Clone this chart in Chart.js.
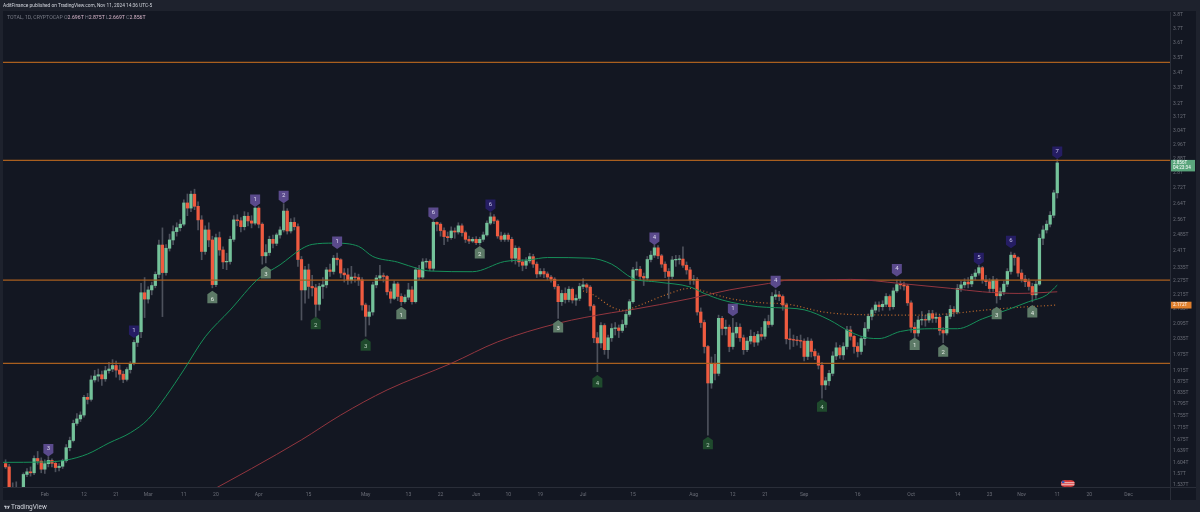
<!DOCTYPE html>
<html>
<head>
<meta charset="utf-8">
<title>TOTAL, 1D, CRYPTOCAP</title>
<script src="https://cdn.jsdelivr.net/npm/chart.js@4.4.1/dist/chart.umd.min.js"></script>
<style>
  html, body { margin: 0; padding: 0; background: #1e222d; }
  #wrap { position: relative; width: 1200px; height: 512px; overflow: hidden; }
  #panel { position: absolute; left: 3px; top: 11px; width: 1193px; height: 489px; background: #131722; }
  #myChart { position: absolute; left: 0; top: 0; }
  .t { position: absolute; white-space: nowrap; line-height: 1; font-family: Roboto, "Liberation Sans", sans-serif; }
  #pub { left: 3px; top: 3.5px; font-size: 4.8px; color: #d1d4dc; }
  #legend { left: 7px; top: 14.5px; font-size: 5.2px; color: #787b86; }
  #legend b { font-weight: normal; color: #d9b8cc; }
  #brand { left: 4px; top: 504px; font-size: 6.5px; color: #d1d4dc; }
</style>
</head>
<body>
<div id="wrap">
  <div id="panel"></div>
  <canvas id="myChart" width="1200" height="512"></canvas>
  <div class="t" id="pub">AditFinance published on TradingView.com, Nov 11, 2024 14:36 UTC-5</div>
  <div class="t" id="legend">TOTAL, 1D, CRYPTOCAP O<b>2.696T</b> H<b>2.875T</b> L<b>2.669T</b> C<b>2.856T</b></div>
  <div class="t" id="brand"><svg width="6" height="4.5" viewBox="0 0 36 28" style="vertical-align:-0.5px;margin-right:1px"><path d="M14 24H7V11H0V4h14v20zM28 24h-8l7.5-20h8L28 24z" fill="#d1d4dc"/><circle cx="19" cy="8" r="4" fill="#d1d4dc"/></svg>TradingView</div>
</div>
<script>
// TOTAL crypto market cap, daily candles from Jan 21 to Nov 11 2024
// day numbers count from Feb 1 (= 0)

const ctx = document.querySelector("#myChart");

const firstDay = -11;
const firstOpen = 1.600;

const closes = [
  1.590, 1.515, 1.525, 1.522, 1.520, 1.567, 1.575, 1.572, 1.616, 1.608,
  1.583, 1.600, 1.610, 1.601, 1.588, 1.592, 1.609, 1.650, 1.673, 1.729,
  1.744, 1.757, 1.818, 1.811, 1.880, 1.894, 1.899, 1.884, 1.914, 1.920,
  1.933, 1.916, 1.901, 1.882, 1.918, 1.941, 2.021, 2.063, 2.224, 2.197,
  2.236, 2.255, 2.304, 2.438, 2.312, 2.423, 2.462, 2.502, 2.521, 2.538,
  2.644, 2.618, 2.689, 2.627, 2.559, 2.408, 2.510, 2.462, 2.259, 2.473,
  2.415, 2.360, 2.362, 2.465, 2.559, 2.555, 2.526, 2.577, 2.554, 2.543,
  2.618, 2.538, 2.388, 2.403, 2.465, 2.446, 2.486, 2.510, 2.603, 2.505,
  2.547, 2.526, 2.371, 2.236, 2.324, 2.251, 2.245, 2.175, 2.251, 2.258,
  2.324, 2.317, 2.377, 2.370, 2.310, 2.302, 2.279, 2.292, 2.290, 2.280,
  2.172, 2.125, 2.143, 2.258, 2.288, 2.298, 2.295, 2.228, 2.200, 2.262,
  2.208, 2.186, 2.205, 2.236, 2.186, 2.324, 2.292, 2.360, 2.363, 2.331,
  2.547, 2.538, 2.507, 2.478, 2.473, 2.505, 2.500, 2.530, 2.497, 2.465,
  2.457, 2.465, 2.449, 2.465, 2.486, 2.543, 2.574, 2.554, 2.481, 2.465,
  2.485, 2.465, 2.377, 2.423, 2.360, 2.345, 2.365, 2.384, 2.350, 2.306,
  2.317, 2.306, 2.292, 2.283, 2.251, 2.186, 2.221, 2.195, 2.239, 2.193,
  2.200, 2.251, 2.258, 2.248, 2.168, 2.039, 2.019, 2.088, 1.993, 2.039,
  2.076, 2.078, 2.068, 2.092, 2.133, 2.186, 2.324, 2.327, 2.295, 2.288,
  2.371, 2.391, 2.425, 2.388, 2.350, 2.317, 2.295, 2.369, 2.371, 2.373,
  2.345, 2.324, 2.279, 2.282, 2.143, 2.100, 2.005, 1.869, 1.941, 1.904,
  2.117, 2.076, 2.081, 2.005, 2.058, 2.081, 2.039, 1.993, 2.026, 2.045,
  2.022, 2.052, 2.045, 2.104, 2.092, 2.208, 2.215, 2.208, 2.172, 2.035,
  2.032, 2.030, 2.028, 2.026, 1.967, 2.026, 1.986, 1.969, 1.934, 1.862,
  1.877, 1.904, 1.969, 2.000, 1.973, 2.005, 2.070, 2.045, 2.005, 1.986,
  2.036, 2.076, 2.125, 2.151, 2.172, 2.165, 2.175, 2.208, 2.165, 2.232,
  2.259, 2.258, 2.253, 2.181, 2.081, 2.058, 2.110, 2.112, 2.110, 2.136,
  2.117, 2.121, 2.068, 2.058, 2.125, 2.154, 2.143, 2.243, 2.258, 2.270,
  2.262, 2.295, 2.310, 2.334, 2.279, 2.272, 2.242, 2.279, 2.211, 2.228,
  2.261, 2.317, 2.391, 2.380, 2.310, 2.283, 2.272, 2.251, 2.215, 2.261,
  2.470, 2.510, 2.538, 2.582, 2.696, 2.856,
];

const highs = [
  1.612, 1.598, 1.542, 1.545, 1.528, 1.572, 1.585, 1.590, 1.624, 1.638,
  1.618, 1.612, 1.622, 1.615, 1.608, 1.600, 1.614, 1.660, 1.684, 1.740,
  1.762, 1.768, 1.825, 1.832, 1.895, 1.915, 1.920, 1.912, 1.930, 1.945,
  1.955, 1.950, 1.935, 1.912, 1.925, 1.948, 2.030, 2.080, 2.265, 2.290,
  2.250, 2.270, 2.315, 2.462, 2.520, 2.440, 2.490, 2.530, 2.545, 2.560,
  2.660, 2.690, 2.705, 2.715, 2.650, 2.580, 2.530, 2.545, 2.480, 2.490,
  2.500, 2.430, 2.400, 2.480, 2.580, 2.585, 2.570, 2.600, 2.595, 2.580,
  2.622, 2.625, 2.545, 2.440, 2.480, 2.485, 2.495, 2.525, 2.640, 2.615,
  2.565, 2.570, 2.540, 2.385, 2.340, 2.350, 2.300, 2.260, 2.265, 2.290,
  2.335, 2.350, 2.390, 2.400, 2.375, 2.330, 2.330, 2.340, 2.310, 2.305,
  2.290, 2.180, 2.170, 2.270, 2.300, 2.345, 2.310, 2.300, 2.240, 2.275,
  2.270, 2.220, 2.215, 2.265, 2.250, 2.335, 2.345, 2.375, 2.375, 2.370,
  2.555, 2.550, 2.545, 2.520, 2.500, 2.525, 2.520, 2.545, 2.540, 2.505,
  2.480, 2.475, 2.478, 2.475, 2.500, 2.555, 2.595, 2.585, 2.560, 2.500,
  2.495, 2.495, 2.475, 2.435, 2.430, 2.370, 2.380, 2.400, 2.395, 2.360,
  2.330, 2.330, 2.315, 2.300, 2.290, 2.260, 2.235, 2.245, 2.250, 2.245,
  2.215, 2.265, 2.285, 2.265, 2.255, 2.175, 2.060, 2.100, 2.095, 2.050,
  2.095, 2.100, 2.090, 2.110, 2.145, 2.195, 2.335, 2.360, 2.340, 2.310,
  2.385, 2.410, 2.440, 2.435, 2.395, 2.360, 2.330, 2.385, 2.390, 2.390,
  2.430, 2.360, 2.335, 2.300, 2.290, 2.160, 2.110, 2.010, 1.965, 1.975,
  2.130, 2.125, 2.110, 2.090, 2.117, 2.100, 2.095, 2.050, 2.040, 2.070,
  2.060, 2.065, 2.080, 2.115, 2.130, 2.225, 2.236, 2.230, 2.215, 2.180,
  2.075, 2.050, 2.045, 2.050, 2.035, 2.040, 2.035, 1.995, 1.980, 1.945,
  1.890, 1.915, 1.985, 2.020, 2.010, 2.020, 2.085, 2.085, 2.050, 2.020,
  2.045, 2.100, 2.135, 2.160, 2.185, 2.185, 2.190, 2.220, 2.215, 2.245,
  2.279, 2.275, 2.270, 2.260, 2.190, 2.100, 2.125, 2.145, 2.130, 2.150,
  2.150, 2.140, 2.130, 2.080, 2.135, 2.170, 2.165, 2.260, 2.275, 2.285,
  2.290, 2.305, 2.325, 2.345, 2.340, 2.300, 2.285, 2.295, 2.285, 2.245,
  2.275, 2.330, 2.405, 2.400, 2.385, 2.325, 2.300, 2.285, 2.265, 2.275,
  2.490, 2.530, 2.555, 2.600, 2.710, 2.875,
];

const lows = [
  1.585, 1.505, 1.470, 1.505, 1.500, 1.512, 1.560, 1.562, 1.566, 1.598,
  1.572, 1.570, 1.590, 1.590, 1.575, 1.578, 1.585, 1.604, 1.640, 1.668,
  1.722, 1.735, 1.750, 1.795, 1.805, 1.872, 1.875, 1.860, 1.875, 1.905,
  1.910, 1.890, 1.880, 1.870, 1.876, 1.905, 1.935, 2.005, 2.040, 2.120,
  2.180, 2.215, 2.245, 2.290, 2.124, 2.300, 2.410, 2.440, 2.480, 2.505,
  2.530, 2.580, 2.600, 2.610, 2.510, 2.370, 2.395, 2.430, 2.245, 2.250,
  2.390, 2.330, 2.325, 2.350, 2.455, 2.530, 2.500, 2.510, 2.530, 2.520,
  2.535, 2.520, 2.350, 2.355, 2.390, 2.425, 2.435, 2.470, 2.500, 2.490,
  2.495, 2.510, 2.340, 2.110, 2.180, 2.200, 2.210, 2.124, 2.150, 2.200,
  2.245, 2.295, 2.305, 2.345, 2.290, 2.270, 2.260, 2.265, 2.270, 2.255,
  2.150, 2.045, 2.090, 2.130, 2.245, 2.280, 2.270, 2.215, 2.180, 2.195,
  2.190, 2.170, 2.180, 2.195, 2.175, 2.180, 2.280, 2.285, 2.335, 2.320,
  2.320, 2.505, 2.480, 2.440, 2.455, 2.465, 2.470, 2.490, 2.480, 2.450,
  2.445, 2.450, 2.440, 2.438, 2.455, 2.480, 2.535, 2.540, 2.470, 2.455,
  2.455, 2.455, 2.360, 2.350, 2.340, 2.320, 2.330, 2.355, 2.335, 2.290,
  2.295, 2.290, 2.280, 2.270, 2.240, 2.117, 2.170, 2.180, 2.185, 2.180,
  2.170, 2.190, 2.240, 2.230, 2.150, 2.020, 1.910, 2.000, 1.975, 1.960,
  2.025, 2.050, 2.040, 2.060, 2.080, 2.125, 2.180, 2.300, 2.280, 2.255,
  2.280, 2.360, 2.380, 2.375, 2.335, 2.290, 2.200, 2.285, 2.340, 2.350,
  2.335, 2.305, 2.260, 2.260, 2.130, 2.080, 1.980, 1.690, 1.850, 1.880,
  1.895, 2.050, 2.050, 1.985, 1.995, 2.040, 2.025, 1.975, 1.985, 2.015,
  2.005, 2.010, 2.030, 2.035, 2.080, 2.085, 2.195, 2.190, 2.150, 2.015,
  1.995, 2.005, 2.010, 2.000, 1.950, 1.955, 1.965, 1.955, 1.920, 1.815,
  1.845, 1.860, 1.895, 1.955, 1.960, 1.955, 1.995, 2.030, 1.980, 1.965,
  1.975, 2.010, 2.065, 2.110, 2.140, 2.145, 2.150, 2.165, 2.150, 2.155,
  2.225, 2.240, 2.235, 2.170, 2.060, 2.040, 2.045, 2.090, 2.085, 2.100,
  2.100, 2.100, 2.050, 2.020, 2.050, 2.115, 2.125, 2.135, 2.230, 2.245,
  2.245, 2.250, 2.280, 2.300, 2.265, 2.255, 2.225, 2.230, 2.180, 2.195,
  2.215, 2.250, 2.305, 2.345, 2.295, 2.270, 2.250, 2.235, 2.185, 2.200,
  2.255, 2.440, 2.495, 2.525, 2.570, 2.669,
];

// crypto daily candles open at the previous close
const opens = [firstOpen].concat(closes.slice(0, -1));

// moving averages
const maFastDays = [-12, 0, 6, 12, 18, 24, 29, 34, 39, 45, 52, 60, 66, 72, 75, 81, 88, 92, 99, 105, 108, 120, 129, 136, 141, 153, 159, 165, 172, 181, 185, 190, 200, 205, 213, 220, 226, 231, 234, 240, 249, 256, 263, 270, 276, 281, 284];
const maFastVals = [1.604, 1.605, 1.611, 1.630, 1.665, 1.698, 1.743, 1.822, 1.917, 2.043, 2.151, 2.286, 2.347, 2.420, 2.441, 2.447, 2.432, 2.385, 2.359, 2.328, 2.319, 2.316, 2.362, 2.370, 2.380, 2.377, 2.350, 2.286, 2.270, 2.249, 2.221, 2.193, 2.165, 2.161, 2.152, 2.111, 2.062, 2.038, 2.036, 2.064, 2.075, 2.075, 2.115, 2.152, 2.186, 2.214, 2.257];
const maSlowDays = [46, 58, 72, 83, 96, 114, 127, 144, 159, 164, 181, 192, 203, 209, 218, 226, 240, 254, 263, 273, 284];
const maSlowVals = [1.515, 1.585, 1.675, 1.757, 1.844, 1.941, 2.023, 2.097, 2.140, 2.151, 2.199, 2.236, 2.264, 2.279, 2.279, 2.282, 2.264, 2.243, 2.228, 2.221, 2.228];
const dotDays = [151, 154, 159, 162, 168, 174, 181, 187, 192, 200, 209, 218, 226, 245, 254, 263, 273, 284];
const dotVals = [2.232, 2.214, 2.164, 2.150, 2.178, 2.214, 2.243, 2.221, 2.200, 2.183, 2.174, 2.144, 2.133, 2.130, 2.136, 2.150, 2.162, 2.172];

// horizontal levels
const levels = [3.467, 2.870, 2.279, 1.941];

// swing labels
const topDays = [1, 25, 59, 67, 82, 109, 125, 171, 193, 205, 239, 262, 271, 284];
const topVals = [1.622, 2.038, 2.623, 2.642, 2.420, 2.559, 2.598, 2.438, 2.125, 2.243, 2.295, 2.345, 2.423, 2.878];
const topText = ["3", "1", "1", "2", "1", "6", "6", "4", "1", "4", "4", "5", "6", "7"];
const botDays = [47, 62, 76, 90, 100, 122, 144, 155, 186, 218, 244, 252, 267, 277];
const botVals = [2.233, 2.342, 2.123, 2.037, 2.165, 2.433, 2.110, 1.898, 1.685, 1.811, 2.040, 2.014, 2.165, 2.172];
const botText = ["6", "3", "2", "3", "1", "2", "3", "4", "2", "4", "1", "2", "3", "4"];

// axis ticks
const yTicks = [3.8, 3.7, 3.6, 3.5, 3.4, 3.3, 3.2, 3.12, 3.04, 2.96, 2.88, 2.8, 2.72, 2.64, 2.56, 2.485, 2.41, 2.335, 2.275, 2.215, 2.155, 2.095, 2.035, 1.975, 1.915, 1.875, 1.835, 1.795, 1.755, 1.715, 1.675, 1.639, 1.604, 1.57, 1.537];
const xTickDays = [0, 11, 20, 29, 39, 48, 60, 74, 90, 102, 111, 121, 130, 139, 151, 165, 182, 193, 202, 213, 228, 243, 256, 265, 274, 284, 293, 304];
const xTickText = ["Feb", "12", "21", "Mar", "11", "20", "Apr", "15", "May", "13", "22", "Jun", "10", "19", "Jul", "15", "Aug", "12", "21", "Sep", "16", "Oct", "14", "23", "Nov", "11", "20", "Dec"];

// styles
const upColor = "#74c29a";
const downColor = "#ef5b40";
const wickColor = "#4d515c";
const topTone = ["l", "d", "l", "l", "l", "l", "d", "l", "l", "l", "l", "d", "d", "d"];
const botTone = ["l", "l", "d", "d", "l", "l", "l", "d", "d", "d", "l", "l", "l", "l"];
const topFill = { l: ["#5a4a8c", "#dcd8f0"], d: ["#251d63", "#cac6ee"] };
const botFill = { l: ["#5d7a67", "#e2ebe4"], d: ["#1f4a2d", "#b8d0be"] };

const xMin = -11.725, xMax = 315.62;
const yMin = 1.5296, yMax = 3.8198;

const days = closes.map((c, i) => firstDay + i);

const wicks = {
  type: "bar",
  data: days.map((d, i) => ({ x: d, y: [lows[i], highs[i]] })),
  backgroundColor: wickColor,
  barThickness: 1,
  grouped: false,
  order: 6,
};

const bodies = {
  type: "bar",
  data: days.map((d, i) => ({ x: d, y: [opens[i], closes[i]] })),
  backgroundColor: closes.map((c, i) => (c >= opens[i] ? upColor : downColor)),
  barThickness: 2.6,
  minBarLength: 0.6,
  grouped: false,
  order: 5,
};

const levelSets = levels.map((v) => ({
  type: "line",
  data: [{ x: xMin, y: v }, { x: xMax, y: v }],
  borderColor: "#a95f1f",
  borderWidth: 1.3,
  pointRadius: 0,
  order: 4,
}));

const slowLine = {
  type: "line",
  data: maSlowDays.map((d, i) => ({ x: d, y: maSlowVals[i] })),
  borderColor: "#93363f",
  borderWidth: 1,
  pointRadius: 0,
  cubicInterpolationMode: "monotone",
  order: 3,
};

const dotLine = {
  type: "line",
  data: dotDays.map((d, i) => ({ x: d, y: dotVals[i] })),
  borderColor: "#c46d2c",
  borderWidth: 1.2,
  borderDash: [1, 2.4],
  pointRadius: 0,
  cubicInterpolationMode: "monotone",
  order: 2,
};

const fastLine = {
  type: "line",
  data: maFastDays.map((d, i) => ({ x: d, y: maFastVals[i] })),
  borderColor: "#17905a",
  borderWidth: 1,
  pointRadius: 0,
  cubicInterpolationMode: "monotone",
  order: 1,
};

function drawTag(c, x, tip, down, fill, ink, text) {
  const w = 10, h = 9, p = 3.5;
  const top = down ? tip - p - h : tip + p;
  c.beginPath();
  if (down) {
    c.moveTo(x - w / 2, top);
    c.lineTo(x + w / 2, top);
    c.lineTo(x + w / 2, top + h);
    c.lineTo(x, tip);
    c.lineTo(x - w / 2, top + h);
  } else {
    c.moveTo(x, tip);
    c.lineTo(x + w / 2, top);
    c.lineTo(x + w / 2, top + h);
    c.lineTo(x - w / 2, top + h);
    c.lineTo(x - w / 2, top);
  }
  c.closePath();
  c.fillStyle = fill;
  c.fill();
  c.fillStyle = ink;
  c.font = "6px Roboto, sans-serif";
  c.textAlign = "center";
  c.textBaseline = "middle";
  c.fillText(text, x, top + h / 2 + 0.4);
}

const overlay = {
  id: "overlay",
  afterDatasetsDraw(chart) {
    const c = chart.ctx, xs = chart.scales.x, ys = chart.scales.y;
    c.save();
    topDays.forEach((d, i) => {
      const f = topFill[topTone[i]];
      drawTag(c, xs.getPixelForValue(d), ys.getPixelForValue(topVals[i]), true, f[0], f[1], topText[i]);
    });
    botDays.forEach((d, i) => {
      const f = botFill[botTone[i]];
      drawTag(c, xs.getPixelForValue(d), ys.getPixelForValue(botVals[i]), false, f[0], f[1], botText[i]);
    });
    // economic event badge
    const ex = xs.getPixelForValue(285), ey = chart.chartArea.bottom - 6.8;
    c.fillStyle = "#d93b3b";
    c.beginPath();
    c.arc(ex + 3.3, ey + 3.3, 3.3, 0, Math.PI * 2);
    c.arc(ex + 10.5, ey + 3.3, 3.3, 0, Math.PI * 2);
    c.fill();
    c.fillRect(ex + 3.3, ey, 7.2, 6.6);
    c.fillStyle = "#f2f2f2";
    c.fillRect(ex + 0.6, ey + 2.2, 13, 0.8);
    c.fillRect(ex + 0.6, ey + 4.2, 13, 0.8);
    c.fillStyle = "#3b5bb5";
    c.fillRect(ex + 1, ey + 0.7, 2.6, 2.2);
    c.restore();
  },
  afterDraw(chart) {
    const c = chart.ctx, ys = chart.scales.y, a = chart.chartArea;
    c.save();
    c.strokeStyle = "#2a2e39";
    c.lineWidth = 1;
    c.beginPath();
    c.moveTo(a.right + 0.5, a.bottom);
    c.lineTo(a.right + 0.5, 500);
    c.moveTo(a.right, a.bottom + 0.5);
    c.lineTo(1196, a.bottom + 0.5);
    c.stroke();

    const last = closes[closes.length - 1];
    const py = ys.getPixelForValue(last);
    c.fillStyle = "#5aa57c";
    c.fillRect(a.right + 1, py - 3, 24, 11.5);
    c.fillStyle = "#ffffff";
    c.font = "4.6px Roboto, sans-serif";
    c.textAlign = "left";
    c.textBaseline = "middle";
    c.fillText(last.toFixed(3) + "T", a.right + 3, py);
    c.fillText("04:23:34", a.right + 3, py + 5.3);

    const dv = dotVals[dotVals.length - 1];
    const oy = ys.getPixelForValue(dv);
    c.fillStyle = "#e07f2c";
    c.fillRect(a.right + 1, oy - 3.3, 20.5, 6.8);
    c.fillStyle = "#ffffff";
    c.fillText(dv.toFixed(3) + "T", a.right + 3, oy + 0.2);
    c.restore();
  },
};

const data = {
  datasets: [fastLine, dotLine, slowLine, ...levelSets, bodies, wicks],
};

const options = {
  responsive: false,
  animation: false,
  events: [],
  layout: { padding: { left: 3, top: 12, right: 4, bottom: 15 } },
  plugins: {
    legend: { display: false },
    tooltip: { enabled: false },
  },
  scales: {
    x: {
      type: "linear",
      min: xMin,
      max: xMax,
      offset: false,
      grid: { display: false, drawTicks: false },
      border: { display: true, color: "#2a2e39", width: 1 },
      ticks: {
        autoSkip: false,
        maxRotation: 0,
        padding: 5,
        color: "#6b6e78",
        font: { family: "Roboto, sans-serif", size: 5 },
        callback: (v, i) => xTickText[i],
      },
      afterBuildTicks: (axis) => {
        axis.ticks = xTickDays.map((d) => ({ value: d }));
      },
      afterFit: (axis) => {
        axis.height = 10;
      },
    },
    y: {
      type: "logarithmic",
      position: "right",
      min: yMin,
      max: yMax,
      grid: { display: false, drawTicks: false },
      border: { display: true, color: "#2a2e39", width: 1 },
      ticks: {
        autoSkip: false,
        padding: 3,
        color: "#6b6e78",
        font: { family: "Roboto, sans-serif", size: 5 },
        callback: (v, i) => yTicks[i] + "T",
      },
      afterBuildTicks: (axis) => {
        axis.ticks = yTicks.map((v) => ({ value: v }));
      },
      afterFit: (axis) => {
        axis.width = 26;
      },
    },
  },
};

const config = {
  type: "bar",
  data: data,
  options: options,
  plugins: [overlay],
};

const chart = new Chart(ctx, config);
</script>
</body>
</html>
